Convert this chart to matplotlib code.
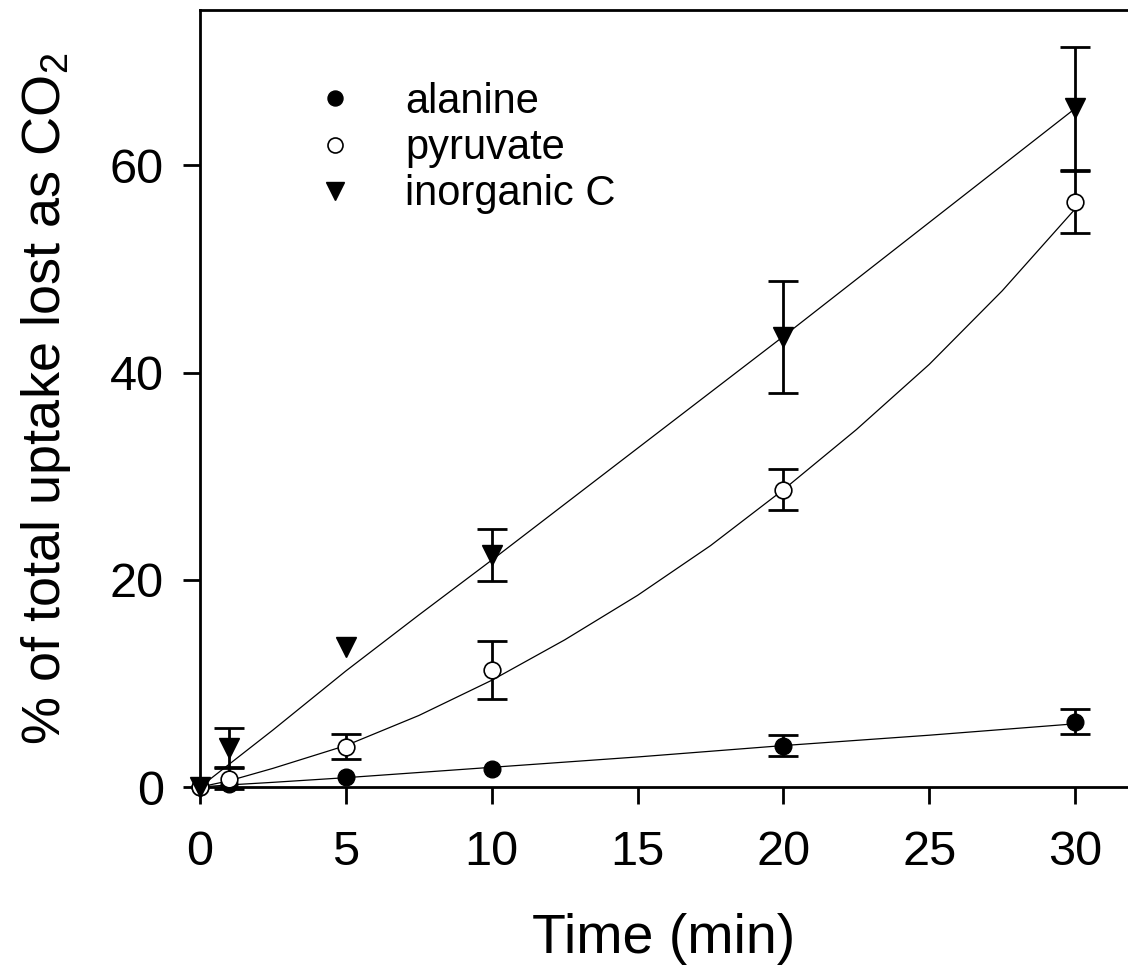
import numpy as np
import matplotlib
matplotlib.use("Agg")
from matplotlib import pyplot as plt
from matplotlib.lines import Line2D

plt.rcParams['font.family'] = ['Liberation Sans', 'DejaVu Sans']
plt.rcParams['mathtext.fontset'] = 'custom'
plt.rcParams['mathtext.rm'] = 'Liberation Sans'

# measured points
time = [0, 1, 5, 10, 20, 30]

alanine = [0, 0.3, 1.0, 1.7, 4.0, 6.3]
alanine_err = [0, 0, 0, 0, 1.0, 1.2]

pyruvate = [0, 0.8, 3.9, 11.3, 28.7, 56.5]
pyruvate_err = [0, 1.0, 1.2, 2.8, 2.0, 3.0]

inorganic = [0, 3.8, 13.5, 22.4, 43.4, 65.5]
inorganic_err = [0, 1.9, 0, 2.5, 5.4, 5.9]

# fitted curves
fit_t = [0, 1, 2.5, 5, 7.5, 10, 12.5, 15, 17.5, 20, 22.5, 25, 27.5, 30]
alanine_fit = [0, 0.2, 0.45, 0.9, 1.4, 1.9, 2.4, 2.9, 3.45, 4.0, 4.5, 5.0, 5.55, 6.1]
pyruvate_fit = [0, 0.6, 1.8, 4.0, 6.9, 10.3, 14.2, 18.5, 23.3, 28.7, 34.5, 40.8, 47.9, 55.8]
inorganic_fit = [0, 2.2, 5.5, 11.2, 16.6, 21.9, 27.3, 32.7, 38.1, 43.5, 49.0, 54.5, 60.0, 65.5]

W, H = 1128, 972
fig = plt.figure(figsize=(W/100, H/100), dpi=100)
ax = fig.add_axes([200/W, (H-787)/H, (W-200)/W, (787-10)/H])

for fit in [alanine_fit, pyruvate_fit, inorganic_fit]:
    ax.plot(fit_t, fit, color='black', lw=0.9, clip_on=False)

series = [
    (alanine, alanine_err, dict(marker='o', ms=12, mfc='black', mec='black')),
    (pyruvate, pyruvate_err, dict(marker='o', ms=12, mfc='white', mec='black', mew=1.2)),
    (inorganic, inorganic_err, dict(marker='v', ms=14, mfc='black', mec='black')),
]
for vals, errs, style in series:
    et = [t for t, e in zip(time, errs) if e > 0]
    ev = [v for v, e in zip(vals, errs) if e > 0]
    ee = [e for e in errs if e > 0]
    ax.errorbar(et, ev, yerr=ee, fmt='none', ecolor='black', elinewidth=2,
                capsize=11, capthick=2, clip_on=False)
    ax.plot(time, vals, linestyle='none', clip_on=False, zorder=3, **style)

ax.set_xlim(0, 31.81)
ax.set_ylim(0, 75)
ax.set_xticks([0, 5, 10, 15, 20, 25, 30])
ax.set_yticks([0, 20, 40, 60])
ax.spines['right'].set_visible(False)
for s in ax.spines.values():
    s.set_linewidth(2)
ax.tick_params(direction='out', length=12, width=2, labelsize=35)
ax.tick_params(axis='x', pad=19)
ax.tick_params(axis='y', pad=14)

ax.set_xlabel('Time (min)', fontsize=40, labelpad=27)
ax.set_ylabel('% of total uptake lost as CO$_2$', fontsize=39)
ax.yaxis.set_label_coords((73 - 200) / 928, 0.5)

handles = [Line2D([], [], linestyle='none', **s) for _, _, s in series]
ax.legend(handles, ['alanine', 'pyruvate', 'inorganic C'],
          loc='upper left', bbox_to_anchor=(322 / W, 1 - 82 / H),
          bbox_transform=fig.transFigure, frameon=False,
          fontsize=30, handlelength=0.6, handletextpad=1.4,
          labelspacing=0.15, markerscale=0.9, borderpad=0, borderaxespad=0)

fig.savefig('out.png', dpi=100)
